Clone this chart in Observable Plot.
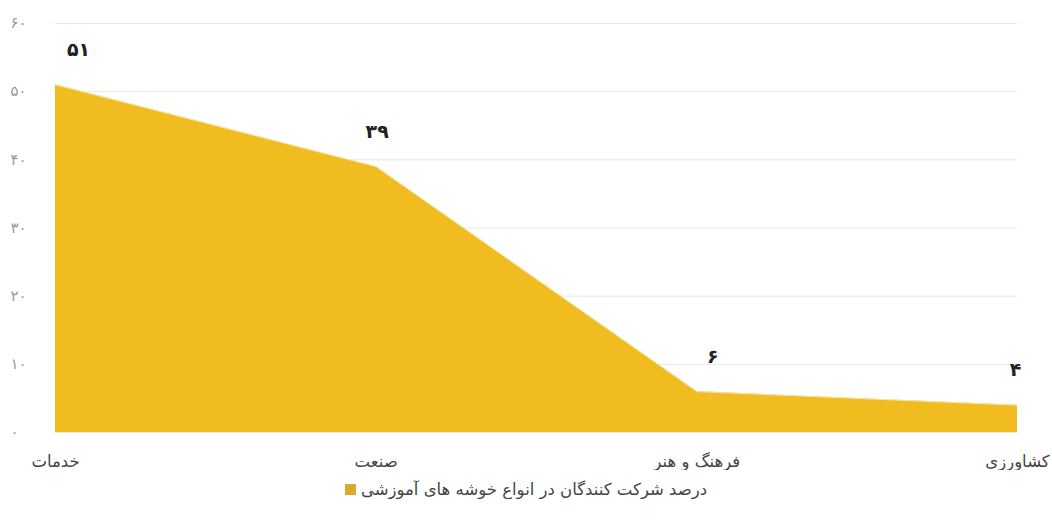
<!DOCTYPE html>
<html><head><meta charset="utf-8">
<script src="https://cdn.jsdelivr.net/npm/d3@7"></script>
<script src="https://cdn.jsdelivr.net/npm/@observablehq/plot@0.6"></script>
<style>
body{margin:0;background:#fff;font-family:"DejaVu Sans","Noto Sans",sans-serif;}
#legend{display:flex;justify-content:center;align-items:center;gap:5px;margin-top:10px;font-size:16.5px;color:#444;}
#legend .sw{width:11px;height:11px;background:#dcaa28;}
</style></head>
<body>
<div id="chart"></div>
<div id="legend"><span class="sw"></span><span dir="rtl" id="legtext"></span></div>
<script>
const categories = ["خدمات", "صنعت", "فرهنگ و هنر", "کشاورزی"];
const values = [51, 39, 6, 4];
const valueLabels = ["۵۱", "۳۹", "۶", "۴"];
const yTicks = [0, 10, 20, 30, 40, 50, 60];
const seriesName = "درصد شرکت کنندگان در انواع خوشه های آموزشی";

const fa = n => String(n).replace(/\d/g, d => "۰۱۲۳۴۵۶۷۸۹"[d]);
const data = categories.map((c, i) => ({i, c, v: values[i], label: valueLabels[i]}));
const labelDx = [23, 1, 16, -2];

const plot = Plot.plot({
  width: 1052, height: 470,
  marginLeft: 55, marginRight: 35, marginTop: 23, marginBottom: 38,
  style: {fontFamily: "DejaVu Sans, Noto Sans, sans-serif", background: "#fff"},
  x: {type: "linear", domain: [0, categories.length - 1], axis: null},
  y: {domain: [0, 60], axis: null},
  marks: [
    Plot.gridY(yTicks, {stroke: "#e6e6e6", strokeOpacity: 1}),
    Plot.areaY(data, {x: "i", y: "v", fill: "#f0bc1f"}),
    Plot.lineY(data, {x: "i", y: "v", stroke: "#f5e6b0", strokeWidth: 1}),
    Plot.axisY(yTicks, {label: null, tickSize: 0, tickPadding: 0, textAnchor: "start", dx: -45, fontSize: 15, fill: "#999", tickFormat: fa}),
    Plot.text(data, {x: "i", text: "c", frameAnchor: "bottom", dy: 34, fontSize: 16.5, fill: "#444"}),
    ...data.map((d, k) => Plot.text([d], {x: "i", y: "v", text: "label", dy: -35, dx: labelDx[k], fontSize: 19, fontWeight: "bold", fill: "#222"}))
  ]
});
document.getElementById("chart").appendChild(plot);
document.getElementById("legtext").textContent = seriesName;
</script>
</body></html>
